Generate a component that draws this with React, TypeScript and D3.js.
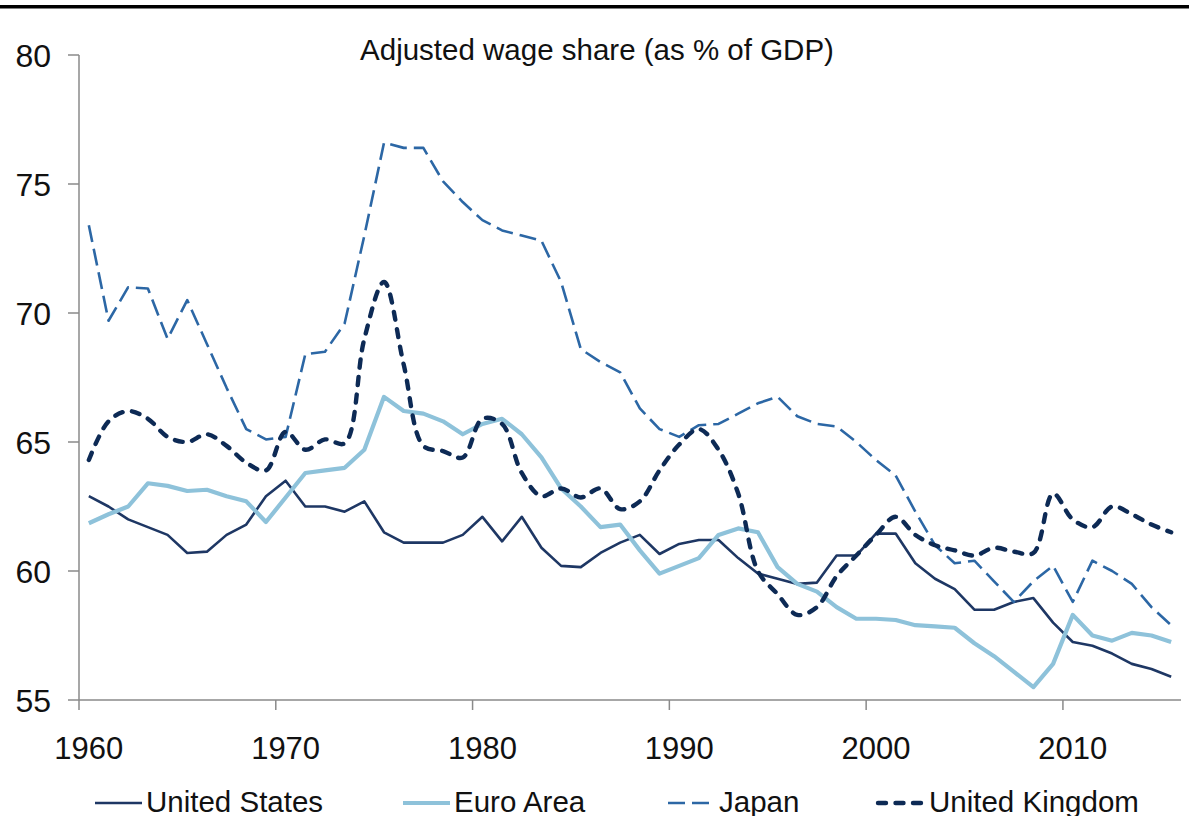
import React from 'react'
import * as d3 from 'd3'

// categories (one per year) and tick labels
const years = d3.range(1960, 2016)
const xTickYears = [1960, 1970, 1980, 1990, 2000, 2010]
const yTicks = [55, 60, 65, 70, 75, 80]

// adjusted wage share, % of GDP
const unitedStates = [
  62.9, 62.5, 62.0, 61.7, 61.4, 60.7, 60.75, 61.4, 61.8, 62.9,
  63.5, 62.5, 62.5, 62.3, 62.7, 61.5, 61.1, 61.1, 61.1, 61.4,
  62.1, 61.15, 62.1, 60.9, 60.2, 60.15, 60.7, 61.1, 61.4, 60.66,
  61.05, 61.2, 61.2, 60.5, 59.9, 59.7, 59.5, 59.55, 60.6, 60.6,
  61.45, 61.45, 60.3, 59.7, 59.3, 58.5, 58.5, 58.8, 58.95, 58.0,
  57.25, 57.1, 56.8, 56.4, 56.2, 55.9,
]
const euroArea = [
  61.85, 62.2, 62.5, 63.4, 63.3, 63.1, 63.15, 62.9, 62.7, 61.9,
  62.85, 63.8, 63.9, 64.0, 64.7, 66.75, 66.2, 66.1, 65.8, 65.3,
  65.7, 65.9, 65.3, 64.4, 63.2, 62.5, 61.7, 61.8, 60.8, 59.9,
  60.2, 60.5, 61.4, 61.65, 61.5, 60.15, 59.5, 59.2, 58.6, 58.15,
  58.15, 58.1, 57.9, 57.85, 57.8, 57.2, 56.7, 56.1, 55.5, 56.4,
  58.3, 57.5, 57.3, 57.6, 57.5, 57.25,
]
const japan = [
  73.4, 69.7, 71.0, 70.95, 69.0, 70.5, 68.8, 67.1, 65.5, 65.1,
  65.2, 68.4, 68.5, 69.6, 73.0, 76.6, 76.4, 76.4, 75.1, 74.3,
  73.6, 73.2, 73.0, 72.8, 71.2, 68.6, 68.1, 67.7, 66.3, 65.5,
  65.2, 65.65, 65.7, 66.1, 66.5, 66.75, 66.0, 65.7, 65.6, 65.0,
  64.3, 63.7, 62.3, 61.0, 60.3, 60.4, 59.6, 58.8, 59.6, 60.2,
  58.8, 60.4, 60.0, 59.5, 58.6, 57.9,
]
const unitedKingdom = [
  64.3, 65.8, 66.2, 65.9, 65.2, 65.0, 65.3, 64.85, 64.2, 63.9,
  65.4, 64.7, 65.1, 64.95, 69.0, 71.2, 68.0, 64.85, 64.65, 64.4,
  65.9, 65.7, 63.8, 62.9, 63.2, 62.85, 63.2, 62.4, 62.7, 63.9,
  64.9, 65.5, 64.7, 63.0, 60.0, 59.1, 58.3, 58.6, 59.8, 60.6,
  61.4, 62.1, 61.4, 61.0, 60.8, 60.6, 60.9, 60.75, 60.7, 63.0,
  62.0, 61.7, 62.5, 62.2, 61.8, 61.5,
]

const seriesList = [
  { name: 'United States', values: unitedStates, color: '#1e3764', width: 2.6, dash: undefined, cap: 'butt', smooth: false, legendX: 95 },
  { name: 'Euro Area', values: euroArea, color: '#8ec2da', width: 4.2, dash: undefined, cap: 'butt', smooth: false, legendX: 403 },
  { name: 'Japan', values: japan, color: '#2c67a5', width: 2.6, dash: '17,7', cap: 'butt', smooth: false, legendX: 668 },
  { name: 'United Kingdom', values: unitedKingdom, color: '#0d2a55', width: 4.4, dash: '8,9.5', cap: 'round', smooth: true, legendX: 878 },
]

const fontFamily = '"Liberation Sans", Arial, Helvetica, sans-serif'
const axisColor = '#8a8a8a'

export default function App() {
  const width = 1189
  const height = 816

  const xBand = d3.scaleBand<number>().domain(years).range([79, 1181]).padding(0)
  const xMid = (yr: number) => (xBand(yr) as number) + xBand.bandwidth() / 2
  const yScale = d3.scaleLinear().domain([55, 80]).range([700, 55])

  const makeLine = (smooth: boolean) =>
    d3.line<number>()
      .x((_, i) => xMid(years[i]))
      .y((v) => yScale(v))
      .curve(smooth ? d3.curveCatmullRom.alpha(0.5) : d3.curveLinear)

  const [x0, x1] = xBand.range()

  return (
    <div style={{ position: 'absolute', left: 0, top: 0 }}>
      <svg width={width} height={height} style={{ display: 'block', background: '#fff' }}>
        <rect x={0} y={5} width={width} height={3.5} fill="#000" />

        <text x={597} y={60} textAnchor="middle" fontSize={29.5} fontFamily={fontFamily} fill="#111">
          Adjusted wage share (as % of GDP)
        </text>

        {/* y axis */}
        <line x1={x0} x2={x0} y1={yScale(80)} y2={yScale(55)} stroke={axisColor} strokeWidth={1.5} />
        {yTicks.map((t) => (
          <g key={t}>
            <line x1={x0 - 11} x2={x0} y1={yScale(t)} y2={yScale(t)} stroke={axisColor} strokeWidth={1.5} />
            <text x={51} y={yScale(t) + 11.5} textAnchor="end" fontSize={32} fontFamily={fontFamily} fill="#111">
              {t}
            </text>
          </g>
        ))}

        {/* x axis */}
        <line x1={x0} x2={x1} y1={yScale(55)} y2={yScale(55)} stroke={axisColor} strokeWidth={1.5} />
        {xTickYears.map((yr) => (
          <g key={yr}>
            <line x1={xBand(yr)} x2={xBand(yr)} y1={yScale(55)} y2={yScale(55) + 10} stroke={axisColor} strokeWidth={1.5} />
            <text x={xMid(yr)} y={759} textAnchor="middle" fontSize={31} fontFamily={fontFamily} fill="#111">
              {yr}
            </text>
          </g>
        ))}

        {/* series */}
        {seriesList.map((s) => (
          <path
            key={s.name}
            d={makeLine(s.smooth)(s.values) || ''}
            fill="none"
            stroke={s.color}
            strokeWidth={s.width}
            strokeDasharray={s.dash}
            strokeLinecap={s.cap as any}
            strokeLinejoin="round"
          />
        ))}

        {/* legend */}
        {seriesList.map((s) => (
          <g key={'lg' + s.name}>
            <line
              x1={s.legendX}
              x2={s.legendX + 47}
              y1={803}
              y2={803}
              stroke={s.color}
              strokeWidth={s.width}
              strokeDasharray={s.dash}
              strokeLinecap={s.cap as any}
            />
            <text x={s.legendX + 51} y={812} fontSize={29.5} fontFamily={fontFamily} fill="#111">
              {s.name}
            </text>
          </g>
        ))}
      </svg>
    </div>
  )
}
